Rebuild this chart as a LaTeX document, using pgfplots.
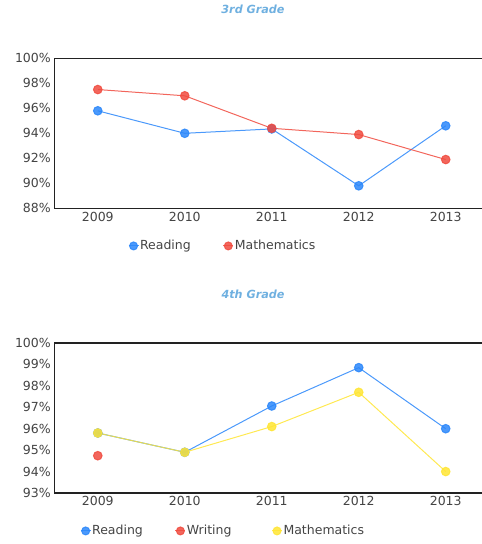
\documentclass[border=0pt]{standalone}
\usepackage{pgfplots}
\pgfplotsset{compat=1.18}
\usepackage{fontspec}
\setmainfont{DejaVu Sans}
\definecolor{cblue}{HTML}{2B87FA}
\definecolor{cred}{HTML}{F04B3F}
\definecolor{cyellow}{HTML}{FFE534}
\definecolor{titleblue}{HTML}{6FB0E0}
\definecolor{labelgray}{HTML}{444444}
\definecolor{spine}{HTML}{222222}
\begin{document}
\begin{tikzpicture}
\useasboundingbox (0pt,0pt) rectangle (482pt,544pt);
\pgfplotsset{
  myaxis/.style={
    anchor=south west,
    scale only axis, width=427.7pt, height=150pt,
    xmin=-0.5, xmax=4.417,
    xtick={0,1,2,3,4}, xticklabels={2009,2010,2011,2012,2013},
    axis line style={draw=none}, major tick length=0,
    tick label style={font=\fontsize{12.5}{14}\selectfont, text=labelgray},
    title style={at={(0.4646,1.284)}, anchor=center, font=\bfseries\itshape\fontsize{11.2}{13}\selectfont, text=titleblue},
    legend style={draw=none, fill=none, legend columns=-1, anchor=west,
      font=\fontsize{12.5}{14}\selectfont, text=labelgray,
      /tikz/every odd column/.append style={column sep=0pt},
      nodes={inner sep=1pt}},
    legend image code/.code={\draw[##1, mark=none, line width=1pt] (0pt,0pt) -- (10pt,0pt); \fill[##1] (5pt,0pt) circle (4pt);},
    every axis plot/.append style={line width=1pt, mark=*, mark size=4.3pt, opacity=0.85},
  }
}
\begin{axis}[myaxis, name=ax1, at={(54.3pt,335.7pt)},
  ymin=88, ymax=100, ytick={88,90,92,94,96,98,100},
  yticklabels={88\%,90\%,92\%,94\%,96\%,98\%,100\%},
  title={3rd Grade},
  legend style={at={(0.165,-0.251)}, /tikz/column 2/.style={column sep=31pt}}]
\addplot[color=cblue, mark options={fill=cblue, draw=cblue}] coordinates {(0,95.8) (1,94.0) (2,94.35) (3,89.8) (4,94.6)};
\addlegendentry{Reading}
\addplot[color=cred, mark options={fill=cred, draw=cred}] coordinates {(0,97.5) (1,97.0) (2,94.4) (3,93.9) (4,91.9)};
\addlegendentry{Mathematics}
\end{axis}
\draw[spine, line width=1.5pt] (ax1.north east) -- (ax1.north west) -- (ax1.south west) -- (ax1.south east);
\begin{axis}[myaxis, name=ax2, at={(54.3pt,51pt)},
  ymin=93, ymax=100, ytick={93,94,95,96,97,98,99,100},
  yticklabels={93\%,94\%,95\%,96\%,97\%,98\%,99\%,100\%},
  title={4th Grade},
  legend style={at={(0.053,-0.253)}, /tikz/column 2/.style={column sep=31pt}, /tikz/column 4/.style={column sep=39pt}}]
\addplot[color=cblue, mark options={fill=cblue, draw=cblue}] coordinates {(0,95.8) (1,94.9) (2,97.06) (3,98.85) (4,96.0)};
\addlegendentry{Reading}
\addplot[color=cred, mark options={fill=cred, draw=cred}] coordinates {(0,94.74)};
\addlegendentry{Writing}
\addplot[color=cyellow, mark options={fill=cyellow, draw=cyellow}] coordinates {(0,95.8) (1,94.9) (2,96.1) (3,97.7) (4,94.0)};
\addlegendentry{Mathematics}
\end{axis}
\draw[spine, line width=1.5pt] (ax2.north east) -- (ax2.north west) -- (ax2.south west) -- (ax2.south east);
\end{tikzpicture}
\end{document}
